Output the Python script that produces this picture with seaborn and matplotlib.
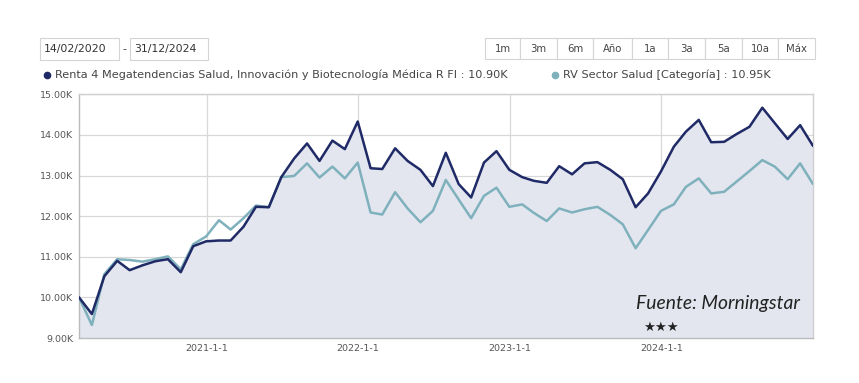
import numpy as np
import pandas as pd
import matplotlib
matplotlib.use("Agg")
import matplotlib.pyplot as plt
import matplotlib.dates as mdates
from matplotlib.patches import Rectangle
from matplotlib.ticker import FuncFormatter
import seaborn as sns

# ---------------- data ----------------
dates = pd.date_range("2020-02-29", "2024-12-31", freq="ME")

fund_values = [
    10.00, 9.59, 10.52, 10.90, 10.67, 10.79, 10.89, 10.94, 10.62, 11.26, 11.38,
    11.40, 11.40, 11.74, 12.23, 12.22, 12.96, 13.42, 13.79, 13.36, 13.86, 13.65, 14.33,
    13.18, 13.16, 13.67, 13.36, 13.14, 12.74, 13.56, 12.79, 12.46, 13.32, 13.60, 13.14,
    12.96, 12.87, 12.82, 13.23, 13.03, 13.30, 13.33, 13.14, 12.91, 12.22, 12.56, 13.10,
    13.71, 14.08, 14.37, 13.82, 13.83, 14.02, 14.20, 14.67, 14.29, 13.90, 14.24, 13.73,
]
category_values = [
    10.00, 9.32, 10.57, 10.94, 10.92, 10.88, 10.94, 11.01, 10.69, 11.31, 11.50,
    11.90, 11.67, 11.95, 12.26, 12.22, 12.96, 12.99, 13.30, 12.95, 13.22, 12.93, 13.32,
    12.09, 12.04, 12.59, 12.19, 11.85, 12.13, 12.89, 12.41, 11.95, 12.50, 12.70, 12.23,
    12.29, 12.08, 11.88, 12.19, 12.09, 12.17, 12.23, 12.03, 11.80, 11.21, 11.66, 12.13,
    12.29, 12.72, 12.93, 12.56, 12.60, 12.85, 13.11, 13.38, 13.22, 12.91, 13.30, 12.79,
]
fund_values = [v * 1000 for v in fund_values]
category_values = [v * 1000 for v in category_values]

fund_name = "Renta 4 Megatendencias Salud, Innovación y Biotecnología Médica R FI : 10.90K"
category_name = "RV Sector Salud [Categoría] : 10.95K"
date_from = "14/02/2020"
date_to = "31/12/2024"
buttons = ["1m", "3m", "6m", "Año", "1a", "3a", "5a", "10a", "Máx"]
year_ticks = ["2021-01-01", "2022-01-01", "2023-01-01", "2024-01-01"]
y_ticks = [9000, 10000, 11000, 12000, 13000, 14000, 15000]

NAVY = "#1f2a66"
TEAL = "#7fb1bd"
FILL = "#e3e6ef"

df = pd.DataFrame({"date": dates, "fund": fund_values, "cat": category_values})

# ---------------- figure ----------------
sns.set_style("white")
plt.rcParams["font.family"] = ["DejaVu Sans"]

W, H = 859, 383
fig = plt.figure(figsize=(W / 100, H / 100), dpi=100)
fig.patch.set_facecolor("white")

x0, x1, yt, yb = 79, 813, 94.3, 338
ax = fig.add_axes([x0 / W, 1 - yb / H, (x1 - x0) / W, (yb - yt) / H])

ax.fill_between(df["date"], df["fund"], 9000, color=FILL, zorder=1, linewidth=0)
sns.lineplot(data=df, x="date", y="cat", ax=ax, color=TEAL, linewidth=1.8, zorder=3)
sns.lineplot(data=df, x="date", y="fund", ax=ax, color=NAVY, linewidth=1.8, zorder=4)

ax.set_xlim(df["date"].iloc[0], df["date"].iloc[-1])
ax.set_ylim(9000, 15000)
ax.set_yticks(y_ticks)
ax.yaxis.set_major_formatter(FuncFormatter(lambda v, p: f"{v/1000:.2f}K"))
ax.set_xticks(pd.to_datetime(year_ticks))
ax.xaxis.set_major_formatter(FuncFormatter(lambda v, p: f"{mdates.num2date(v).year}-1-1"))
ax.set_xlabel("")
ax.set_ylabel("")
ax.grid(True, color="#d8d8d8", linewidth=0.9, zorder=0)
for ln in ax.get_xgridlines() + ax.get_ygridlines():
    ln.set_zorder(2)
ax.tick_params(axis="both", length=0, labelsize=6.8, labelcolor="#555555", pad=4)
for s in ["left", "bottom", "top", "right"]:
    ax.spines[s].set_color("#cfcfcf")
    ax.spines[s].set_linewidth(1.0)
ax.spines["left"].set_color("#bbbbbb")
ax.spines["bottom"].set_color("#bbbbbb")

# ---------------- header widgets (pixel coords) ----------------
def px_rect(x, y, w, h, ec="#d4d4d4", fc="white"):
    r = Rectangle((x / W, 1 - (y + h) / H), w / W, h / H, transform=fig.transFigure,
                  facecolor=fc, edgecolor=ec, linewidth=0.8)
    fig.add_artist(r)

def px_text(x, y, s, **kw):
    fig.text(x / W, 1 - y / H, s, **kw)

px_rect(40, 38, 79, 22)
px_text(44, 49, date_from, fontsize=7.8, color="#333333", va="center", ha="left")
px_text(124, 49, "-", fontsize=7.8, color="#333333", va="center", ha="center")
px_rect(130, 38, 78, 22)
px_text(134, 49, date_to, fontsize=7.8, color="#333333", va="center", ha="left")

edges = [485, 520, 556.7, 593.3, 631.7, 668.3, 705, 741.7, 778.3, 815]
for i, b in enumerate(buttons):
    px_rect(edges[i], 38, edges[i + 1] - edges[i], 21)
    px_text((edges[i] + edges[i + 1]) / 2, 48.5, b, fontsize=7.3, color="#444444",
            va="center", ha="center")

# legend
ly = 74.5
fig.add_artist(plt.Line2D([47 / W], [1 - ly / H], marker="o", markersize=4.5,
                          color=NAVY, transform=fig.transFigure))
px_text(55, ly, fund_name, fontsize=8.15, color="#444444", va="center", ha="left")
fig.add_artist(plt.Line2D([555 / W], [1 - ly / H], marker="o", markersize=4.5,
                          color=TEAL, transform=fig.transFigure))
px_text(563, ly, category_name, fontsize=8.15, color="#444444", va="center", ha="left")

# source annotation
px_text(636, 303, "Fuente: Morningstar", fontsize=13.9, style="italic",
        family=["Lato", "DejaVu Sans"], color="#222222", va="center", ha="left")
px_text(643, 327, "★★★", fontsize=9.5, color="#222222", va="center", ha="left")

fig.savefig("out.png", dpi=100, facecolor="white")
